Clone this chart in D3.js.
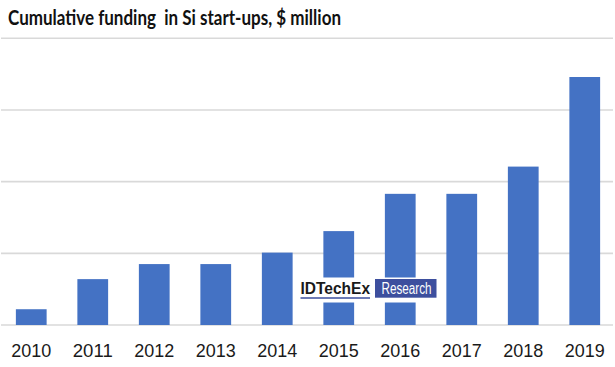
<!DOCTYPE html>
<html>
<head>
<meta charset="utf-8">
<script src="https://cdn.jsdelivr.net/npm/d3@7"></script>
<style>
  html, body { margin: 0; padding: 0; background: #fff; }
  svg { display: block; }
</style>
</head>
<body>
<svg id="chart" width="615" height="367"></svg>
<script>
const titleText = "Cumulative funding  in Si start-ups, $ million";
const years = ["2010","2011","2012","2013","2014","2015","2016","2017","2018","2019"];
const funding = [22, 64, 85, 85, 101, 131, 183, 183, 221, 346];
const gridValues = [0, 100, 200, 300, 400];

const W = 615, H = 367;
const svg = d3.select("#chart");

const x = d3.scaleBand().domain(years).range([0.5, 615.5]).paddingInner(0.5).paddingOuter(0.25);
const y = d3.scaleLinear().domain([0, 400]).range([325, 38.3]);

// gridlines
svg.append("g").selectAll("line").data(gridValues).join("line")
  .attr("x1", 1).attr("x2", 613)
  .attr("y1", d => y(d)).attr("y2", d => y(d))
  .attr("stroke", "#d9d9d9").attr("stroke-width", 1.6);

// bars
svg.append("g").selectAll("rect").data(years).join("rect")
  .attr("x", d => x(d))
  .attr("width", x.bandwidth())
  .attr("y", (d, i) => y(funding[i]))
  .attr("height", (d, i) => y(0) - y(funding[i]))
  .attr("fill", "#4472c4");

// x axis labels
const xAxis = d3.axisBottom(x).tickSize(0).tickPadding(0);
const ax = svg.append("g").attr("transform", "translate(0,344)").call(xAxis);
ax.select(".domain").remove();
ax.selectAll("text")
  .attr("dy", "0.71em")
  .attr("font-family", "'Liberation Sans', Arial, sans-serif")
  .attr("font-size", 18.5)
  .attr("fill", "#1a1a1a")
  .attr("textLength", 40)
  .attr("lengthAdjust", "spacingAndGlyphs");

// title
svg.append("text")
  .attr("x", 8).attr("y", 25)
  .attr("font-family", "Lato, 'Open Sans', sans-serif")
  .attr("font-weight", 700)
  .attr("font-size", 20)
  .attr("fill", "#111")
  .attr("textLength", 333)
  .attr("lengthAdjust", "spacingAndGlyphs")
  .style("white-space", "pre")
  .text(titleText);

// watermark
const wm = svg.append("g");
wm.append("rect").attr("x", 296).attr("y", 277.5).attr("width", 145).attr("height", 25).attr("fill", "#fff");
wm.append("text").attr("x", 300.5).attr("y", 293.5)
  .attr("font-family", "'Liberation Sans', Arial, sans-serif")
  .attr("font-weight", 700).attr("font-size", 16.5)
  .attr("fill", "#1a1a1a")
  .attr("textLength", 69.5).attr("lengthAdjust", "spacingAndGlyphs")
  .text("IDTechEx");
wm.append("line").attr("x1", 300.5).attr("x2", 370).attr("y1", 298).attr("y2", 298)
  .attr("stroke", "#3d4f9e").attr("stroke-width", 1.5);
wm.append("rect").attr("x", 375).attr("y", 279).attr("width", 61.5).attr("height", 18.7).attr("fill", "#3d4f9e");
wm.append("text").attr("x", 381.5).attr("y", 293.5)
  .attr("font-family", "'Liberation Sans', Arial, sans-serif")
  .attr("font-size", 16)
  .attr("fill", "#fff")
  .attr("textLength", 50).attr("lengthAdjust", "spacingAndGlyphs")
  .text("Research");
</script>
</body>
</html>
